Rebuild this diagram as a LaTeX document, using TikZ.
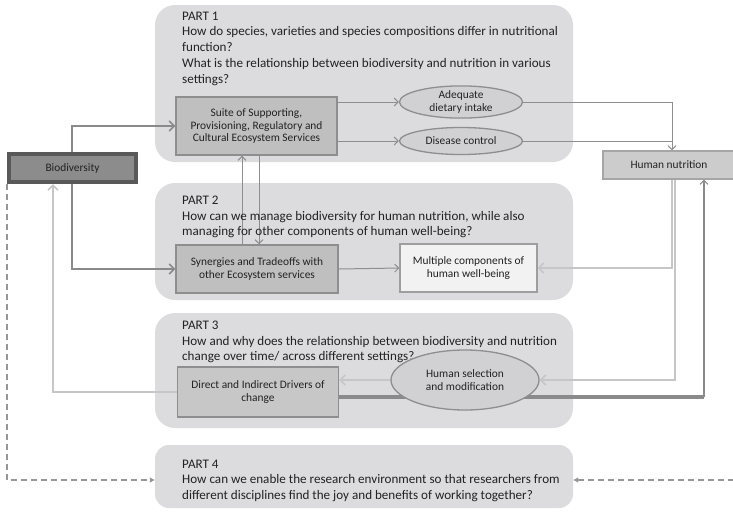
\documentclass[tikz,border=0pt]{standalone}
\usepackage{fontspec}
\setmainfont{Carlito}
\usetikzlibrary{arrows.meta,shapes.geometric}
\pgfdeclarelayer{panels}
\pgfdeclarelayer{lines}
\pgfsetlayers{panels,lines,main}
\definecolor{panelc}{HTML}{DCDCDE}
\definecolor{boxc}{HTML}{BFBFBF}
\definecolor{boxline}{HTML}{8E8E8E}
\definecolor{darkc}{HTML}{8A8A8A}
\definecolor{lightc}{HTML}{C6C6C8}
\definecolor{txt}{HTML}{222222}
\tikzset{
  panel/.style={fill=panelc, draw=none, rounded corners=20pt, inner sep=0pt},
  qtext/.style={anchor=north west, align=left, font=\fontsize{13.1}{15.8}\selectfont, text=txt, inner sep=0pt},
  gbox/.style={draw=boxline, line width=1.3pt, fill=boxc, align=center, inner sep=0pt, font=\fontsize{11.4}{12.6}\selectfont, text=txt},
  gell/.style={ellipse, draw=boxline, line width=1.3pt, fill=panelc!95!black, align=center, inner sep=0pt, font=\fontsize{11.4}{13}\selectfont, text=txt},
  darkarr/.style={draw=darkc, line width=2pt, -{Straight Barb[length=5pt,width=10pt,line width=1.6pt]}},
  thinarr/.style={draw=boxline, line width=1pt, -{Straight Barb[length=4pt,width=8pt,line width=1pt]}},
  thinline/.style={draw=boxline, line width=1pt},
  lightarr/.style={draw=lightc, line width=2pt, -{Straight Barb[length=5pt,width=10pt,line width=1.6pt]}},
  dasharr/.style={draw=darkc!90, line width=1.5pt, dash pattern=on 6pt off 4pt, -{Latex[length=5pt,width=6pt]}},
}
\begin{document}
\begin{tikzpicture}[x=1pt,y=-1pt]
\useasboundingbox (0,0) rectangle (733,512);
% panels
\begin{pgfonlayer}{panels}
\fill[white] (0,0) rectangle (733,512);
\node[panel, minimum width=418pt, minimum height=157pt] (p1) at (364,83.5) {};
\node[panel, minimum width=418pt, minimum height=117pt] (p2) at (364,241.5) {};
\node[panel, minimum width=418pt, minimum height=115pt] (p3) at (364,370.5) {};
\node[panel, minimum width=418pt, minimum height=63pt, rounded corners=14pt] (p4) at (364,476.5) {};
\end{pgfonlayer}
% panel texts
\node[qtext] (t1) at (182,11.5) {PART 1\\How do species, varieties and species compositions differ in nutritional\\function?\\What is the relationship between biodiversity and nutrition in various\\settings?};
\node[qtext] (t2) at (182,195.5) {PART 2\\How can we manage biodiversity for human nutrition, while also\\managing for other components of human well-being?};
\node[qtext] (t3) at (182,320.5) {PART 3\\How and why does the relationship between biodiversity and nutrition\\change over time/ across different settings?};
\node[qtext] (t4) at (182,459.5) {PART 4\\How can we enable the research environment so that researchers from\\different disciplines find the joy and benefits of working together?};
% nodes
\node[gbox, draw=black!65, line width=4pt, fill=black!45, minimum width=127pt, minimum height=28pt] (bio) at (72.5,168) {Biodiversity};
\node[gbox, minimum width=161pt, minimum height=58pt] (suite) at (256.5,126) {Suite of Supporting,\\Provisioning, Regulatory and\\Cultural Ecosystem Services};
\node[gell, minimum width=123pt, minimum height=27pt] (ade) at (461,102) {Adequate\\dietary intake};
\node[gell, minimum width=123pt, minimum height=27pt] (dis) at (461,141) {Disease control};
\node[gbox, draw=black!35, fill=black!20, minimum width=132pt, minimum height=28pt] (hn) at (669,165) {Human nutrition};
\node[gbox, minimum width=162pt, minimum height=48pt] (syn) at (257,269) {Synergies and Tradeoffs with\\other Ecosystem services};
\node[gbox, draw=black!38, fill=black!5, minimum width=137pt, minimum height=48pt] (mult) at (468.5,268) {Multiple components of\\human well-being};
\node[gbox, fill=black!22, minimum width=161pt, minimum height=50pt] (dir) at (258,392) {Direct and Indirect Drivers of\\change};
\node[gell, minimum width=148pt, minimum height=60pt] (hsel) at (465,380) {Human selection\\and modification};
% helper coordinates
\coordinate (c72) at (72,0);
\coordinate (c53) at (53,0);
\coordinate (c242) at (242,0);
\coordinate (c259) at (259,0);
\coordinate (c672) at (672,0);
\coordinate (c675) at (675,0);
\coordinate (c704) at (704,0);
\coordinate (c397) at (0,397);
\coordinate (c480) at (0,480);
\coordinate (redge) at (734,480);
% connectors
\begin{pgfonlayer}{lines}
\draw[darkarr] (bio.north -| c72) |- (suite.west);
\draw[darkarr] (bio.south -| c72) |- (syn.west);
\draw[thinarr] (suite.east |- ade.west) -- (ade.west);
\draw[thinarr] (suite.east |- dis.west) -- (dis.west);
\draw[thinarr] (ade.east) -| (hn.north -| c672);
\draw[thinline] (dis.east) -- (dis.east -| c672);
\draw[thinarr] (syn.north -| c242) -- (suite.south -| c242);
\draw[thinarr] (suite.south -| c259) -- (syn.north -| c259);
\draw[thinarr] (syn.east) -- (mult.west);
\draw[lightarr] (hn.south -| c672) |- (mult.east);
\draw[lightarr] (hn.south -| c675) |- (hsel.east);
\draw[lightarr] (hsel.west) -- (hsel.west -| dir.east);
\draw[lightarr] (dir.west) -| (bio.south -| c53);
\draw[draw=darkc, line width=4pt] (dir.east |- c397) -- (c704 |- c397);
\draw[thinarr, draw=darkc, line width=1.5pt] (c704 |- c397) -- (hn.south -| c704);
\draw[dasharr] (bio.south west) |- (p4.west |- c480);
\draw[dasharr] (redge) -- (p4.east |- redge);
\end{pgfonlayer}
\end{tikzpicture}
\end{document}
